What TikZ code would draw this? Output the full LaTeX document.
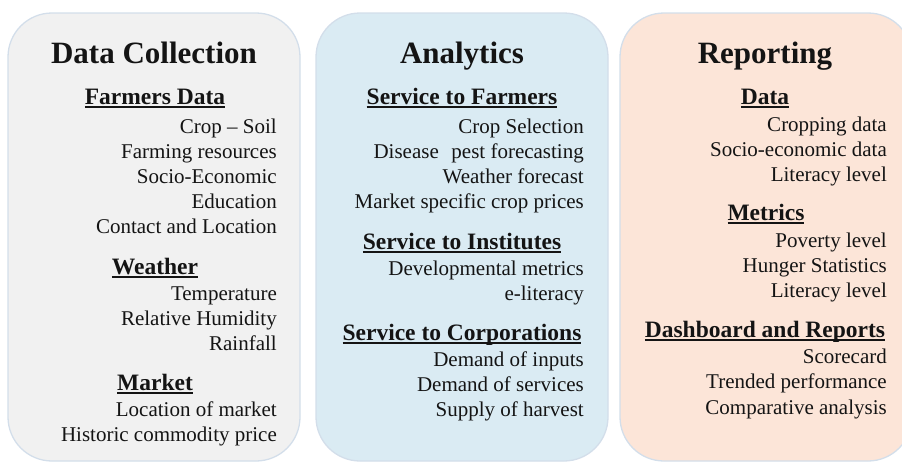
\documentclass[tikz,border=0pt]{standalone}
\usepackage{fontspec}
\setmainfont{Liberation Serif}
\definecolor{edgeblue}{HTML}{D3DEEA}
\definecolor{greyfill}{HTML}{F1F1F1}
\definecolor{bluefill}{HTML}{DAEBF3}
\definecolor{peachfill}{HTML}{FCE5D8}
\definecolor{inkblack}{HTML}{141414}
% thick underline placed under a heading
\newcommand\headline[1]{\setbox0\hbox{#1}\leavevmode\rlap{\rule[-3.6pt]{\wd0}{1.8pt}}\box0}
\begin{document}
\begin{tikzpicture}[x=1pt,y=-1pt,
  panel/.style={draw=edgeblue, line width=1.3pt, rounded corners=44pt},
  paneltitle/.style={font=\fontsize{31}{36}\selectfont\bfseries, anchor=base, inner sep=0, text=inkblack},
  sectionhead/.style={font=\fontsize{23.5}{28}\selectfont\bfseries, anchor=base, inner sep=0, text=inkblack},
  entry/.style={font=\fontsize{21}{25}\selectfont, anchor=base east, inner sep=0, text=inkblack}]
\useasboundingbox (0,0) rectangle (902,463);
\clip (0,0) rectangle (902,463);

% three column panels
\draw[panel, fill=greyfill]  (8,13)   rectangle (300,461);
\draw[panel, fill=bluefill]  (316,13) rectangle (608,461);
\draw[panel, fill=peachfill] (620,13) rectangle (912,461);

% Data Collection column
\node[paneltitle]  (dc)   at (154,63)  {Data Collection};
\node[sectionhead] (fd)   at (155,104) {\headline{Farmers Data}};
\node[entry] (fd1) at (277,133) {Crop -- Soil};
\node[entry] (fd2) at (277,158) {Farming resources};
\node[entry] (fd3) at (277,183) {Socio-Economic};
\node[entry] (fd4) at (277,208) {Education};
\node[entry] (fd5) at (277,233) {Contact and Location};
\node[sectionhead] (wt)   at (155,274) {\headline{Weather}};
\node[entry] (wt1) at (277,300) {Temperature};
\node[entry] (wt2) at (277,325) {Relative Humidity};
\node[entry] (wt3) at (277,350) {Rainfall};
\node[sectionhead] (mk)   at (155,390) {\headline{Market}};
\node[entry] (mk1) at (277,416) {Location of market};
\node[entry] (mk2) at (277,441) {Historic commodity price};

% Analytics column
\node[paneltitle]  (an)   at (462,63)  {Analytics};
\node[sectionhead] (sf)   at (462,104) {\headline{Service to Farmers}};
\node[entry] (sf1) at (584,133) {Crop Selection};
\node[entry] (sf2) at (584,158) {Disease\hspace{0.6em}pest forecasting};
\node[entry] (sf3) at (584,183) {Weather forecast};
\node[entry] (sf4) at (584,208) {Market specific crop prices};
\node[sectionhead] (si)   at (462,249) {\headline{Service to Institutes}};
\node[entry] (si1) at (584,275) {Developmental metrics};
\node[entry] (si2) at (584,300) {e-literacy};
\node[sectionhead] (sc)   at (462,340) {\headline{Service to Corporations}};
\node[entry] (sc1) at (584,366) {Demand of inputs};
\node[entry] (sc2) at (584,391) {Demand of services};
\node[entry] (sc3) at (584,416) {Supply of harvest};

% Reporting column
\node[paneltitle]  (rp)   at (765,63)  {Reporting};
\node[sectionhead] (da)   at (765,104) {\headline{Data}};
\node[entry] (da1) at (887,131) {Cropping data};
\node[entry] (da2) at (887,156) {Socio-economic data};
\node[entry] (da3) at (887,181) {Literacy level};
\node[sectionhead] (me)   at (766,220) {\headline{Metrics}};
\node[entry] (me1) at (887,247) {Poverty level};
\node[entry] (me2) at (887,272) {Hunger Statistics};
\node[entry] (me3) at (887,297) {Literacy level};
\node[sectionhead] (db)   at (765,337) {\headline{Dashboard and Reports}};
\node[entry] (db1) at (887,363) {Scorecard};
\node[entry] (db2) at (887,388) {Trended performance};
\node[entry] (db3) at (887,414) {Comparative analysis};
\end{tikzpicture}
\end{document}
